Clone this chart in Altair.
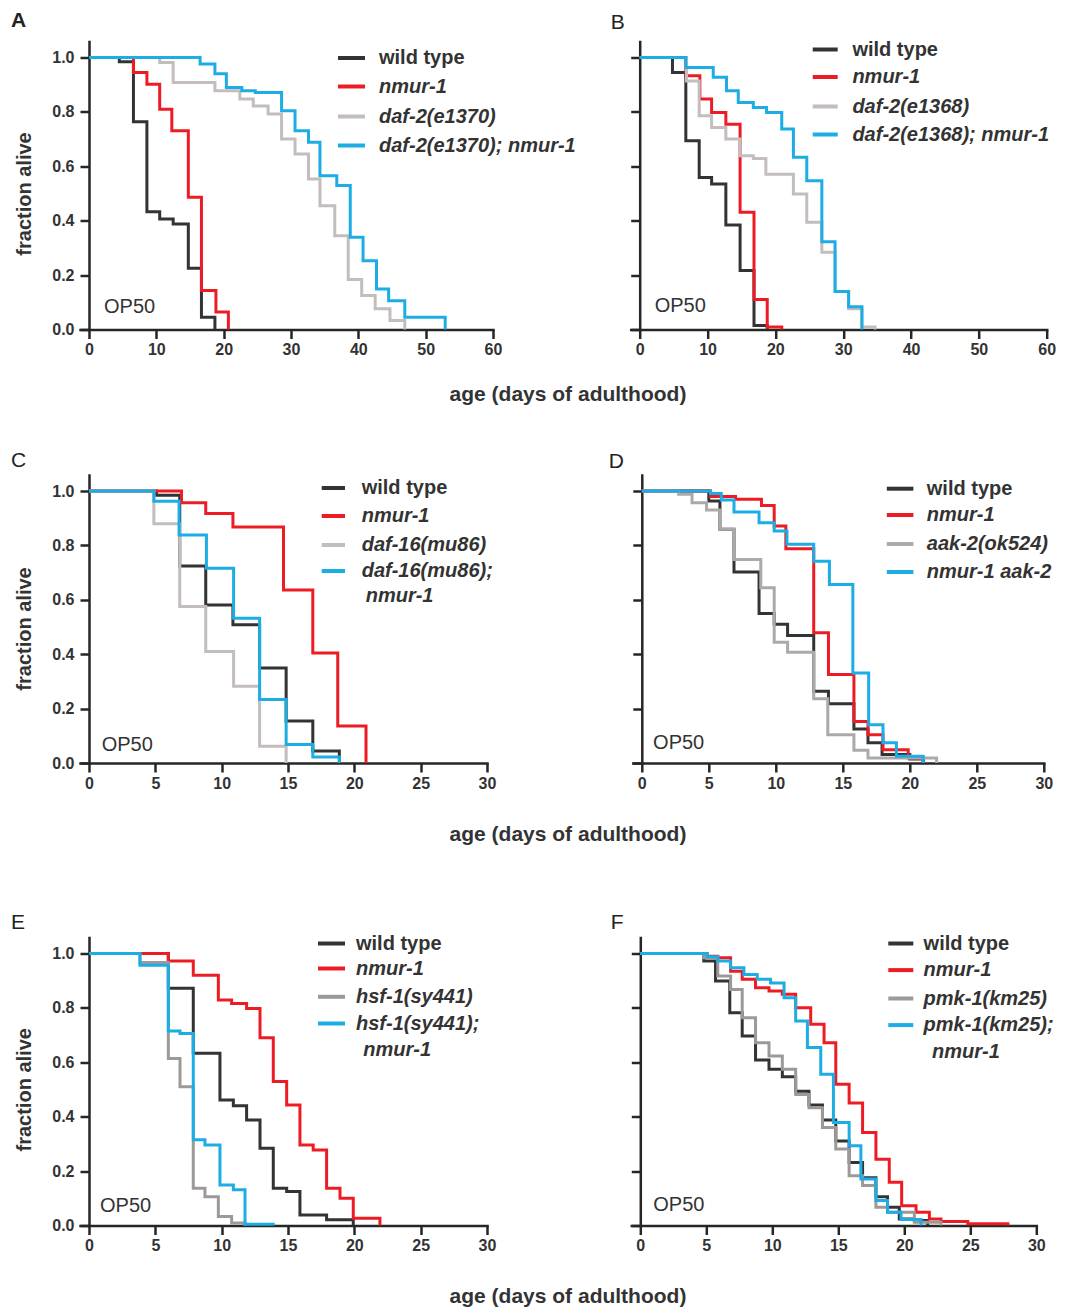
import altair as alt
import pandas as pd

FONT = "Liberation Sans"
INK = "#262626"
LABEL_INK = "#333333"
H = 288
Y_TOP = 1 + 16 / 272

C_WT = "#333333"
C_NMUR = "#ED1C24"
C_BLUE = "#1CADE4"
C_GRAY_A = "#C4BDBD"
C_GRAY_D = "#ADA9A9"
C_GRAY_E = "#9E9999"

# ---------------- data (day, fraction alive) ----------------
# Panel A
A_WT_T = [0, 4.5, 6.6, 8.6, 10.5, 12.5, 14.75, 16.7, 18.7]
A_WT_S = [1.0, 0.984, 0.764, 0.433, 0.406, 0.388, 0.225, 0.045, 0.0]
A_NM_T = [0, 6.6, 8.6, 10.5, 12.3, 14.75, 16.7, 18.85, 20.7]
A_NM_S = [1.0, 0.945, 0.902, 0.81, 0.731, 0.486, 0.143, 0.064, 0.0]
A_DAF_T = [0, 10.5, 12.5, 18.7, 22.4, 24.4, 26.6, 28.6, 30.6, 32.6, 34.3, 36.5, 38.5, 40.5, 42.5, 44.7, 46.9]
A_DAF_S = [1.0, 0.982, 0.908, 0.878, 0.847, 0.822, 0.792, 0.70, 0.645, 0.553, 0.455, 0.345, 0.184, 0.125, 0.076, 0.033, 0.0]
A_DBL_T = [0, 16.5, 18.7, 20.4, 22.7, 24.7, 28.6, 30.6, 32.6, 34.3, 36.8, 38.8, 40.7, 42.7, 44.5, 46.9, 52.9]
A_DBL_S = [1.0, 0.976, 0.94, 0.89, 0.878, 0.871, 0.804, 0.731, 0.688, 0.565, 0.529, 0.339, 0.253, 0.149, 0.106, 0.045, 0.0]
A_LEGEND = [["wild type"], ["nmur-1"], ["daf-2(e1370)"], ["daf-2(e1370); nmur-1"]]

# Panel B
B_WT_T = [0, 4.83, 6.8, 8.77, 10.6, 12.7, 14.8, 16.85, 18.8]
B_WT_S = [1.0, 0.945, 0.694, 0.559, 0.535, 0.384, 0.217, 0.015, 0.0]
B_NM_T = [0, 6.8, 8.87, 10.6, 12.7, 14.8, 16.85, 18.8, 20.94]
B_NM_S = [1.0, 0.933, 0.847, 0.798, 0.755, 0.431, 0.11, 0.009, 0.0]
B_DAF_T = [0, 6.9, 8.77, 10.6, 12.7, 14.8, 16.75, 18.6, 22.66, 24.63, 26.85, 28.8, 30.8, 32.76, 34.7]
B_DAF_S = [1.0, 0.914, 0.786, 0.743, 0.70, 0.639, 0.629, 0.571, 0.498, 0.394, 0.284, 0.14, 0.076, 0.009, 0.0]
B_DBL_T = [0, 6.8, 10.84, 12.8, 14.53, 16.75, 18.7, 20.94, 22.66, 24.63, 26.85, 28.8, 30.8, 32.76]
B_DBL_S = [1.0, 0.963, 0.927, 0.878, 0.835, 0.816, 0.798, 0.737, 0.633, 0.547, 0.323, 0.14, 0.084, 0.0]
B_LEGEND = [["wild type"], ["nmur-1"], ["daf-2(e1368)"], ["daf-2(e1368); nmur-1"]]

# Panel C
C_WT_T = [0, 5.09, 6.84, 8.8, 10.85, 12.86, 14.86, 16.87, 18.87]
C_WT_S = [1.0, 0.984, 0.724, 0.581, 0.508, 0.349, 0.154, 0.044, 0.0]
C_NM_T = [0, 6.97, 8.8, 10.85, 14.66, 16.87, 18.75, 20.88]
C_NM_S = [1.0, 0.957, 0.917, 0.868, 0.636, 0.404, 0.136, 0.0]
C_DAF_T = [0, 4.89, 6.84, 8.8, 10.9, 12.86, 14.86]
C_DAF_S = [1.0, 0.88, 0.575, 0.41, 0.282, 0.062, 0.0]
C_DBL_T = [0, 4.89, 6.79, 8.85, 10.9, 12.86, 14.86, 16.87, 18.87]
C_DBL_S = [1.0, 0.962, 0.838, 0.716, 0.532, 0.233, 0.068, 0.022, 0.0]
C_LEGEND = [["wild type"], ["nmur-1"], ["daf-16(mu86)"], ["daf-16(mu86);", "nmur-1"]]

# Panel D
D_WT_T = [0, 5.0, 5.83, 6.88, 8.75, 9.88, 10.88, 12.83, 13.93, 15.83, 16.88, 17.93, 20.0, 21.0]
D_WT_S = [1.0, 0.963, 0.859, 0.702, 0.55, 0.51, 0.469, 0.264, 0.218, 0.125, 0.074, 0.031, 0.015, 0.0]
D_NM_T = [0, 5.13, 7.0, 8.93, 9.88, 10.75, 12.83, 13.93, 15.83, 16.88, 18.0, 19.88, 21.0]
D_NM_S = [1.0, 0.98, 0.97, 0.947, 0.871, 0.788, 0.479, 0.325, 0.153, 0.104, 0.049, 0.018, 0.0]
D_AAK_T = [0, 2.75, 3.75, 4.83, 5.83, 6.88, 8.88, 9.88, 10.88, 12.83, 13.88, 15.83, 16.88, 22.0]
D_AAK_S = [1.0, 0.988, 0.957, 0.93, 0.859, 0.748, 0.644, 0.444, 0.407, 0.236, 0.104, 0.047, 0.018, 0.0]
D_DBL_T = [0, 5.13, 5.93, 6.88, 8.75, 9.88, 10.83, 12.83, 14.0, 15.75, 16.93, 18.0, 19.0, 21.0]
D_DBL_S = [1.0, 0.991, 0.967, 0.923, 0.883, 0.853, 0.804, 0.742, 0.656, 0.331, 0.141, 0.074, 0.025, 0.0]
D_LEGEND = [["wild type"], ["nmur-1"], ["aak-2(ok524)"], ["nmur-1 aak-2"]]

# Panel E
E_WT_T = [0, 5.98, 7.86, 9.87, 10.88, 11.88, 12.89, 13.89, 14.9, 15.9, 17.91, 19.92]
E_WT_S = [1.0, 0.872, 0.633, 0.461, 0.44, 0.388, 0.284, 0.137, 0.125, 0.039, 0.021, 0.0]
E_NM_T = [0, 5.98, 7.86, 9.75, 10.75, 11.88, 12.89, 13.89, 14.9, 15.9, 16.9, 17.91, 18.92, 19.92, 21.93]
E_NM_S = [1.0, 0.972, 0.92, 0.829, 0.816, 0.798, 0.69, 0.529, 0.443, 0.296, 0.278, 0.137, 0.1, 0.027, 0.0]
E_HSF_T = [0, 3.84, 5.98, 6.86, 7.86, 8.74, 9.75, 10.75, 11.76]
E_HSF_S = [1.0, 0.967, 0.614, 0.51, 0.137, 0.106, 0.033, 0.009, 0.0]
E_DBL_T = [0, 3.84, 5.98, 6.86, 7.86, 8.74, 9.87, 10.88, 11.76, 13.89]
E_DBL_S = [1.0, 0.957, 0.715, 0.706, 0.315, 0.296, 0.149, 0.131, 0.005, 0.0]
E_LEGEND = [["wild type"], ["nmur-1"], ["hsf-1(sy441)"], ["hsf-1(sy441);", "nmur-1"]]

# Panel F
F_WT_T = [0, 4.81, 5.7, 6.78, 7.72, 8.73, 9.75, 10.76, 11.77, 12.78, 13.8, 14.81, 15.82, 16.84, 17.85, 18.73, 19.62, 20.76, 21.77]
F_WT_S = [1.0, 0.972, 0.899, 0.782, 0.697, 0.608, 0.574, 0.547, 0.494, 0.443, 0.388, 0.311, 0.232, 0.176, 0.106, 0.067, 0.024, 0.018, 0.0]
F_NM_T = [0, 5.06, 5.87, 6.84, 7.72, 8.73, 9.75, 10.76, 11.77, 12.91, 13.92, 14.81, 15.82, 16.84, 17.85, 18.86, 19.8, 20.89, 21.9, 22.78, 24.81, 27.85]
F_NM_S = [1.0, 0.99, 0.984, 0.935, 0.905, 0.874, 0.862, 0.85, 0.801, 0.74, 0.672, 0.519, 0.45, 0.342, 0.244, 0.159, 0.073, 0.049, 0.024, 0.015, 0.006, 0.0]
F_PMK_T = [0, 4.81, 5.87, 6.84, 7.72, 8.73, 9.75, 10.76, 11.77, 12.78, 13.8, 14.81, 15.82, 16.84, 17.85, 18.73, 20.76, 22.78]
F_PMK_S = [1.0, 0.984, 0.917, 0.868, 0.764, 0.672, 0.623, 0.574, 0.482, 0.433, 0.36, 0.281, 0.183, 0.147, 0.067, 0.049, 0.012, 0.0]
F_DBL_T = [0, 5.06, 5.87, 6.84, 7.85, 8.86, 9.87, 10.89, 11.77, 12.66, 13.67, 14.63, 15.82, 16.71, 17.85, 18.73, 19.75, 21.27]
F_DBL_S = [1.0, 0.988, 0.972, 0.948, 0.923, 0.905, 0.892, 0.837, 0.752, 0.654, 0.556, 0.379, 0.293, 0.171, 0.092, 0.049, 0.022, 0.0]
F_LEGEND = [["wild type"], ["nmur-1"], ["pmk-1(km25)"], ["pmk-1(km25);", "nmur-1"]]

Y_TICKS = [0.0, 0.2, 0.4, 0.6, 0.8, 1.0]
Y_TITLE = "fraction alive"
X_TITLE = "age (days of adulthood)"
FOOD = "OP50"


def step_layer(t, s, color, xenc, yenc):
    df = pd.DataFrame({"day": t, "alive": s})
    return alt.Chart(df).mark_line(
        interpolate="step-after", color=color, strokeWidth=3,
        strokeJoin="miter", strokeCap="butt"
    ).encode(x=xenc, y=yenc)


def text_layer(text, x, y, size, weight="bold", style="normal", align="left",
               baseline="middle", angle=None, color=LABEL_INK, opacity=None):
    df = pd.DataFrame({"t": [text]})
    kw = dict(align=align, baseline=baseline, font=FONT, fontSize=size,
              fontWeight=weight, fontStyle=style, color=color)
    if angle is not None:
        kw["angle"] = angle
    if opacity is not None:
        kw["opacity"] = opacity
    return alt.Chart(df).mark_text(**kw).encode(
        text="t:N", x=alt.value(x), y=alt.value(y))


def swatch_layer(x1, x2, y, color):
    df = pd.DataFrame({"k": [0]})
    return alt.Chart(df).mark_rule(color=color, strokeWidth=4).encode(
        x=alt.value(x1), x2=alt.value(x2), y=alt.value(y))


def panel(curves, colors, xmax, xstep, width, ylabels, letter, letter_xy,
          letter_weight, legend, sw_x, tx, rows, line2_x, op50_xy, extras=()):
    d = 9 * xmax / (width - 9)
    xenc = alt.X("day:Q", scale=alt.Scale(domain=[-d, xmax], nice=False, zero=False),
                 axis=alt.Axis(values=list(range(0, xmax + 1, xstep)), format="d",
                               title=None, grid=False, domainColor=INK, domainWidth=2.5,
                               domainCap="square", tickColor=INK, tickWidth=2.5,
                               tickSize=9, labelFont=FONT, labelFontSize=16,
                               labelFontWeight="bold", labelColor=LABEL_INK,
                               labelPadding=3, labelFlush=False, labelOverlap=False))
    yenc = alt.Y("alive:Q", scale=alt.Scale(domain=[0, Y_TOP], nice=False, zero=False),
                 axis=alt.Axis(values=Y_TICKS, format=".1f", title=None, grid=False,
                               offset=-9, labels=ylabels, domainColor=INK,
                               domainWidth=2.5, domainCap="square", tickColor=INK,
                               tickWidth=2.5, tickSize=9, labelFont=FONT,
                               labelFontSize=16, labelFontWeight="bold",
                               labelColor=LABEL_INK, labelPadding=6,
                               labelFlush=False, labelOverlap=False))
    layers = [step_layer(t, s, c, xenc, yenc) for (t, s), c in zip(curves, colors)]
    for i, (lines, c) in enumerate(zip(legend, colors)):
        layers.append(swatch_layer(sw_x[0], sw_x[1], rows[i], c))
        style = "normal" if lines[0] == "wild type" else "italic"
        layers.append(text_layer(lines[0], tx, rows[i], 20, style=style))
        if len(lines) > 1:
            layers.append(text_layer(lines[1], line2_x, rows[i + 1], 20, style=style))
    layers.append(text_layer(FOOD, op50_xy[0], op50_xy[1], 20, weight="normal"))
    layers.append(text_layer(letter, letter_xy[0], letter_xy[1], 21,
                             weight=letter_weight, baseline="top", color="#222222"))
    layers.extend(extras)
    return alt.layer(*layers).properties(width=width, height=H)


def left_extras(title_y, ytitle_y):
    return [
        text_layer(Y_TITLE, -55, ytitle_y, 20, align="center", angle=270),
        text_layer(X_TITLE, 488, title_y, 21, align="center"),
    ]


pA = panel([(A_WT_T, A_WT_S), (A_NM_T, A_NM_S), (A_DAF_T, A_DAF_S), (A_DBL_T, A_DBL_S)],
           [C_WT, C_NMUR, C_GRAY_A, C_BLUE], 60, 10, 413, True, "A", (-69, -31.5), "bold",
           A_LEGEND, (258, 285), 299, [16.5, 45, 75, 104], 0, (24, 265.5),
           extras=left_extras(353, 152.5))
pB = panel([(B_WT_T, B_WT_S), (B_NM_T, B_NM_S), (B_DAF_T, B_DAF_S), (B_DBL_T, B_DBL_S)],
           [C_WT, C_NMUR, C_GRAY_A, C_BLUE], 60, 10, 416, False, "B", (-20, -29.2), "normal",
           B_LEGEND, (182, 207), 221.7, [8, 35.5, 65, 93], 0, (24, 264.5))
pC = panel([(C_WT_T, C_WT_S), (C_NM_T, C_NM_S), (C_DAF_T, C_DAF_S), (C_DBL_T, C_DBL_S)],
           [C_WT, C_NMUR, C_GRAY_A, C_BLUE], 30, 5, 407, True, "C", (-69, -25.5), "normal",
           C_LEGEND, (241.7, 265), 281.7, [13, 41, 70, 96, 121], 285.7, (21.7, 269.5),
           extras=left_extras(360, 154) + [text_layer(" ", 488, 372, 20, baseline="top", opacity=0)])
pD = panel([(D_WT_T, D_WT_S), (D_NM_T, D_NM_S), (D_AAK_T, D_AAK_S), (D_DBL_T, D_DBL_S)],
           [C_WT, C_NMUR, C_GRAY_D, C_BLUE], 30, 5, 411, False, "D", (-24, -24.5), "normal",
           D_LEGEND, (254, 280.6), 294, [13.7, 40, 69, 97], 0, (20.3, 267.5))
pE = panel([(E_WT_T, E_WT_S), (E_NM_T, E_NM_S), (E_HSF_T, E_HSF_S), (E_DBL_T, E_DBL_S)],
           [C_WT, C_NMUR, C_GRAY_E, C_BLUE], 30, 5, 407, True, "E", (-69, -26), "normal",
           E_LEGEND, (238, 265), 276, [6, 31, 59.3, 86, 112.6], 283.3, (20, 268.3),
           extras=left_extras(359.3, 152.3))
pF = panel([(F_WT_T, F_WT_S), (F_NM_T, F_NM_S), (F_PMK_T, F_PMK_S), (F_DBL_T, F_DBL_S)],
           [C_WT, C_NMUR, C_GRAY_E, C_BLUE], 30, 5, 405, False, "F", (-20.5, -26), "normal",
           F_LEGEND, (257, 282), 292.3, [6, 32.6, 61, 87.6, 114.3], 300.7, (22, 267.6))

row1 = alt.hconcat(pA, pB, spacing=137.7, bounds="flush")
row2 = alt.hconcat(pC, pD, spacing=145.8, bounds="flush")
row3 = alt.hconcat(pE, pF, spacing=144.3, bounds="flush")

chart = alt.vconcat(row1, row2, row3, spacing=44.5).properties(
    padding={"left": 3, "top": 1.5, "right": 0, "bottom": 0},
    background="white",
).configure_view(stroke=None)

chart.save("out.html", embed_options={"renderer": "svg", "actions": False})
